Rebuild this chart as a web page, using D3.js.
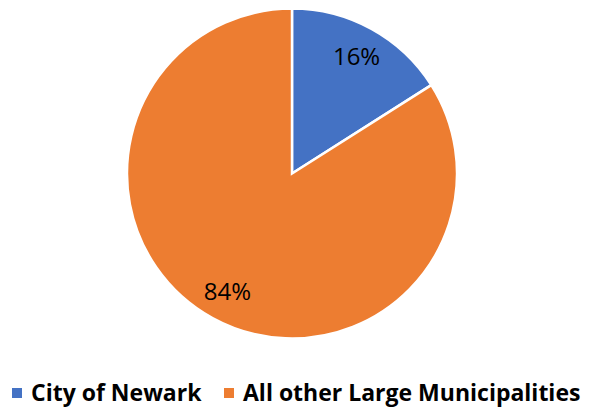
<!DOCTYPE html>
<html>
<head>
<meta charset="utf-8">
<script src="https://cdn.jsdelivr.net/npm/d3@7"></script>
<style>
  body { margin: 0; background: #fff; }
  svg text { font-family: "Open Sans", Lato, sans-serif; }
</style>
</head>
<body>
<div id="chart"></div>
<script>
// Data
const categories = ['City of Newark', 'All other Large Municipalities'];
const values = [16, 84];
const colors = ['#4472C4', '#ED7D31'];

const width = 589;
const height = 412;
const cx = 292, cy = 173.5, radius = 165;

const svg = d3.select('#chart')
    .append('svg')
    .attr('width', width)
    .attr('height', height);

const data = categories.map((c, i) => ({name: c, value: values[i]}));

const pie = d3.pie()
    .value(d => d.value)
    .sort(null);

const arc = d3.arc().innerRadius(0).outerRadius(radius);
const labelArc = d3.arc().innerRadius(134).outerRadius(134);

const color = d3.scaleOrdinal().domain(categories).range(colors);

const g = svg.append('g').attr('transform', `translate(${cx},${cy})`);
const arcs = pie(data);

g.selectAll('path')
    .data(arcs)
    .join('path')
    .attr('d', arc)
    .attr('fill', d => color(d.data.name))
    .attr('stroke', '#fff')
    .attr('stroke-width', 2.5)
    .attr('stroke-linejoin', 'miter');

g.selectAll('text.label')
    .data(arcs)
    .join('text')
    .attr('class', 'label')
    .attr('transform', d => `translate(${labelArc.centroid(d)})`)
    .attr('text-anchor', 'middle')
    .attr('dy', '0.36em')
    .attr('font-size', 24)
    .attr('fill', '#000')
    .text(d => d.data.value + '%');

// Legend
const legendX = [12, 224];
const legend = svg.append('g');
const items = legend.selectAll('g')
    .data(categories)
    .join('g')
    .attr('transform', (d, i) => `translate(${legendX[i]},0)`);

items.append('rect')
    .attr('x', 0)
    .attr('y', 388)
    .attr('width', 10)
    .attr('height', 10)
    .attr('fill', d => color(d));

items.append('text')
    .attr('x', 19)
    .attr('y', 401)
    .attr('font-size', 23)
    .attr('font-weight', 'bold')
    .attr('fill', '#000')
    .text(d => d);
</script>
</body>
</html>
